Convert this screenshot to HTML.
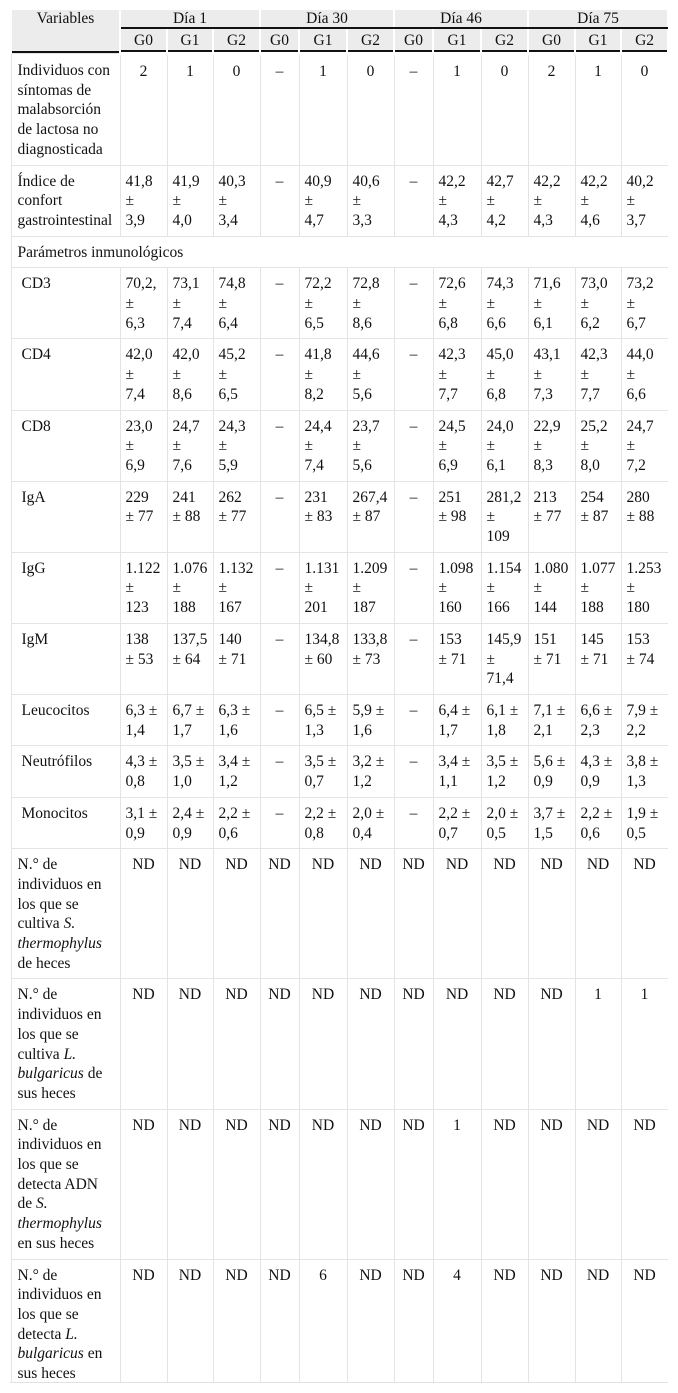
<!DOCTYPE html>
<html><head><meta charset="utf-8">
<style>
html,body{margin:0;padding:0;background:#fff;width:678px;height:1393px;overflow:hidden}
#wrap{position:absolute;left:10px;top:10px;width:658px;height:1372px;overflow:hidden;border-bottom:1px solid #e2e2e2}
table{border-collapse:collapse;table-layout:fixed;width:658px;font-family:"Liberation Serif",serif;font-size:15.5px;color:#111}
td,th{border:1px solid #e4e4e4;vertical-align:top;line-height:19.7px;padding:6px 1px 5px 5px;text-align:left;font-weight:normal;white-space:nowrap}
th{background:#ececec;padding:0 1px;line-height:17px;text-align:center;border-color:#fff;border-width:0 2px}
tr.h1 th{height:17px}
tr.h1 th.grp{border-bottom:2px solid #111}
tr.h2 th{height:23px;border-bottom:3px solid #fff;box-shadow:inset 0 -2px 0 #111;vertical-align:middle}
th.var{vertical-align:top;box-shadow:inset 0 -2px 0 #111}
td.c{text-align:center;padding-left:3px;padding-right:3px}
td.lab{padding-left:6px}
td.sub{padding-left:10px}
tr.first td{padding-top:7px}
</style></head><body>
<div id="wrap">
<table id="tbl">
<colgroup><col style="width:109px"><col style="width:47px"><col style="width:46px"><col style="width:47px"><col style="width:39px"><col style="width:48px"><col style="width:47px"><col style="width:39px"><col style="width:48px"><col style="width:47px"><col style="width:47px"><col style="width:46px"><col style="width:47px"></colgroup>
<thead>
<tr class="h1"><th class="var" rowspan="2">Variables</th>
<th class="grp" colspan="3">Día 1</th>
<th class="grp" colspan="3">Día 30</th>
<th class="grp" colspan="3">Día 46</th>
<th class="grp" colspan="3">Día 75</th></tr>
<tr class="h2" id="grouprow"></tr>
</thead>
<tbody id="tb"></tbody>
</table>
</div>
<script>
const groups = ["G0","G1","G2","G0","G1","G2","G0","G1","G2","G0","G1","G2"];
const rowLabels = [
"Individuos con|síntomas de|malabsorción|de lactosa no|diagnosticada",
"Índice de|confort|gastrointestinal",
"Parámetros inmunológicos",
"CD3","CD4","CD8","IgA","IgG","IgM","Leucocitos","Neutrófilos","Monocitos",
"N.° de|individuos en|los que se|cultiva <i>S.</i>|<i>thermophylus</i>|de heces",
"N.° de|individuos en|los que se|cultiva <i>L.</i>|<i>bulgaricus</i> de|sus heces",
"N.° de|individuos en|los que se|detecta ADN|de <i>S.</i>|<i>thermophylus</i>|en sus heces",
"N.° de|individuos en|los que se|detecta <i>L.</i>|<i>bulgaricus</i> en|sus heces"
];
const rowNames = ["lactose-malabsorption-row","gi-comfort-row","immunological-section-row","cd3-row","cd4-row","cd8-row","iga-row","igg-row","igm-row","leukocytes-row","neutrophils-row","monocytes-row","s-thermophilus-culture-row","l-bulgaricus-culture-row","s-thermophilus-dna-row","l-bulgaricus-dna-row"];
const rowKinds = ["c","l","sec","s","s","s","s","s","s","s","s","s","c","c","c","c"];
const rowValues = [
["2","1","0","–","1","0","–","1","0","2","1","0"],
["41,8|±|3,9","41,9|±|4,0","40,3|±|3,4","–","40,9|±|4,7","40,6|±|3,3","–","42,2|±|4,3","42,7|±|4,2","42,2|±|4,3","42,2|±|4,6","40,2|±|3,7"],
[],
["70,2,|±|6,3","73,1|±|7,4","74,8|±|6,4","–","72,2|±|6,5","72,8|±|8,6","–","72,6|±|6,8","74,3|±|6,6","71,6|±|6,1","73,0|±|6,2","73,2|±|6,7"],
["42,0|±|7,4","42,0|±|8,6","45,2|±|6,5","–","41,8|±|8,2","44,6|±|5,6","–","42,3|±|7,7","45,0|±|6,8","43,1|±|7,3","42,3|±|7,7","44,0|±|6,6"],
["23,0|±|6,9","24,7|±|7,6","24,3|±|5,9","–","24,4|±|7,4","23,7|±|5,6","–","24,5|±|6,9","24,0|±|6,1","22,9|±|8,3","25,2|±|8,0","24,7|±|7,2"],
["229|± 77","241|± 88","262|± 77","–","231|± 83","267,4|± 87","–","251|± 98","281,2|±|109","213|± 77","254|± 87","280|± 88"],
["1.122|±|123","1.076|±|188","1.132|±|167","–","1.131|±|201","1.209|±|187","–","1.098|±|160","1.154|±|166","1.080|±|144","1.077|±|188","1.253|±|180"],
["138|± 53","137,5|± 64","140|± 71","–","134,8|± 60","133,8|± 73","–","153|± 71","145,9|±|71,4","151|± 71","145|± 71","153|± 74"],
["6,3 ±|1,4","6,7 ±|1,7","6,3 ±|1,6","–","6,5 ±|1,3","5,9 ±|1,6","–","6,4 ±|1,7","6,1 ±|1,8","7,1 ±|2,1","6,6 ±|2,3","7,9 ±|2,2"],
["4,3 ±|0,8","3,5 ±|1,0","3,4 ±|1,2","–","3,5 ±|0,7","3,2 ±|1,2","–","3,4 ±|1,1","3,5 ±|1,2","5,6 ±|0,9","4,3 ±|0,9","3,8 ±|1,3"],
["3,1 ±|0,9","2,4 ±|0,9","2,2 ±|0,6","–","2,2 ±|0,8","2,0 ±|0,4","–","2,2 ±|0,7","2,0 ±|0,5","3,7 ±|1,5","2,2 ±|0,6","1,9 ±|0,5"],
["ND","ND","ND","ND","ND","ND","ND","ND","ND","ND","ND","ND"],
["ND","ND","ND","ND","ND","ND","ND","ND","ND","ND","1","1"],
["ND","ND","ND","ND","ND","ND","ND","1","ND","ND","ND","ND"],
["ND","ND","ND","ND","6","ND","ND","4","ND","ND","ND","ND"]
];
const gr = document.getElementById('grouprow');
groups.forEach((g,i)=>{
  const th=document.createElement('th');
  
  
  th.textContent=g; gr.appendChild(th);
});
const tb=document.getElementById('tb');
rowLabels.forEach((lab,r)=>{
  const tr=document.createElement('tr');
  
  
  if(r===0) tr.className='first';
  const kind=rowKinds[r];
  const td=document.createElement('td');
  
  
  td.innerHTML=lab.split('|').join('<br>');
  td.className = kind==='s' ? 'sub' : 'lab';
  if(kind==='sec'){ td.colSpan=13; }
  tr.appendChild(td);
  rowValues[r].forEach(v=>{
    const c=document.createElement('td');
    
    
    c.innerHTML=v.split('|').join('<br>');
    if(kind==='c'||v==='–') c.className='c';
    tr.appendChild(c);
  });
  tb.appendChild(tr);
});
</script>
</body></html>
